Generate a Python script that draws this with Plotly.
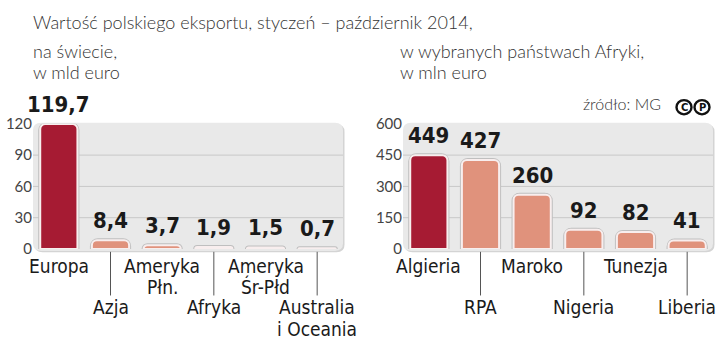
import plotly.graph_objects as go

W, H = 720, 349

# ---- data ----
world_categories = ["Europa", "Azja", "Ameryka Płn.", "Afryka", "Ameryka Śr-Płd", "Australia i Oceania"]
world_label_lines = [["Europa"], ["Azja"], ["Ameryka", "Płn."], ["Afryka"], ["Ameryka", "Śr-Płd"], ["Australia", "i Oceania"]]
world_values = [119.7, 8.4, 3.7, 1.9, 1.5, 0.7]
world_ticks = [0, 30, 60, 90, 120]

africa_categories = ["Algieria", "RPA", "Maroko", "Nigeria", "Tunezja", "Liberia"]
africa_label_lines = [["Algieria"], ["RPA"], ["Maroko"], ["Nigeria"], ["Tunezja"], ["Liberia"]]
africa_values = [449, 427, 260, 92, 82, 41]
africa_ticks = [0, 150, 300, 450, 600]

title_text = "Wartość polskiego eksportu, styczeń – październik 2014,"
left_sub = ["na świecie,", "w mld euro"]
right_sub = ["w wybranych państwach Afryki,", "w mln euro"]
source_text = "źródło: MG"

# ---- style ----
DARK = "#A61B33"
LIGHT = "#E0927C"
BOX = "#E9E9E9"
GRID = "#C8C8C8"
COND = "DejaVu Sans Condensed, Liberation Sans Narrow, Arial Narrow, sans-serif"
LIGHTF = "Lato, Roboto, sans-serif"


def px(x):
    return x / W


def py(y):
    return (H - y) / H


fig = go.Figure()

panels = [
    dict(cats=world_categories, vals=world_values, lines=world_label_lines, ticks=world_ticks,
         xa="x", ya="y", x0=33, x1=343, fmt=lambda v: f"{v:.1f}".replace(".", ",")),
    dict(cats=africa_categories, vals=africa_values, lines=africa_label_lines, ticks=africa_ticks,
         xa="x2", ya="y2", x0=403, x1=713, fmt=lambda v: f"{v:d}"),
]

shapes = []
annotations = []

for p in panels:
    colors = [DARK] + [LIGHT] * (len(p["vals"]) - 1)
    # grey outer rim (shadow) behind the bars
    fig.add_trace(go.Bar(
        x=p["cats"], y=p["vals"], xaxis=p["xa"], yaxis=p["ya"],
        marker=dict(color="#BDBDBD", line=dict(color="#BFBFBF", width=4), cornerradius=6),
        cliponaxis=False, hoverinfo="skip", showlegend=False,
    ))
    fig.add_trace(go.Bar(
        x=p["cats"], y=p["vals"], xaxis=p["xa"], yaxis=p["ya"],
        marker=dict(color=colors, line=dict(color="#F8EEEE", width=2), cornerradius=5),
        cliponaxis=False, hoverinfo="skip", showlegend=False,
    ))
    # rounded background box (shadow + box)
    for off, col in [(1.5, "#D4D4D4"), (0, BOX)]:
        l, r, t, b, rad = p["x0"] + off, p["x1"] + off, 119 + off, 254 + off, 8
        path = (f"M {px(l+rad)} {py(t)} L {px(r-rad)} {py(t)} Q {px(r)} {py(t)} {px(r)} {py(t+rad)} "
                f"L {px(r)} {py(b-rad)} Q {px(r)} {py(b)} {px(r-rad)} {py(b)} "
                f"L {px(l+rad)} {py(b)} Q {px(l)} {py(b)} {px(l)} {py(b-rad)} "
                f"L {px(l)} {py(t+rad)} Q {px(l)} {py(t)} {px(l+rad)} {py(t)} Z")
        shapes.append(dict(type="path", path=path, xref="paper", yref="paper",
                           fillcolor=col, line=dict(width=0), layer="below"))
    # grid lines
    for tv in p["ticks"][1:-1]:
        shapes.append(dict(type="line", xref=p["xa"] + " domain", yref=p["ya"],
                           x0=0, x1=1, y0=tv, y1=tv, line=dict(color=GRID, width=1), layer="below"))
    # value labels
    for c, v in zip(p["cats"], p["vals"]):
        annotations.append(dict(x=c, y=v, xref=p["xa"], yref=p["ya"], text=p["fmt"](v),
                                showarrow=False, yanchor="bottom", yshift=5,
                                font=dict(family=COND, size=22, color="#1A1A1A", weight="bold")))
    # category labels, alternating tiers, one annotation per text line
    for i, (c, lines) in enumerate(zip(p["cats"], p["lines"])):
        first = 269.5 if i % 2 == 0 else 313.5
        if i % 2 == 1:
            shapes.append(dict(type="line", xref=p["xa"], yref="paper", x0=c, x1=c,
                               y0=py(255), y1=py(301), line=dict(color="#555555", width=1)))
        for k, ln in enumerate(lines):
            annotations.append(dict(x=c, y=py(first + 22.5 * k), xref=p["xa"], yref="paper", text=ln,
                                    showarrow=False, yanchor="middle", borderpad=0,
                                    font=dict(family=COND, size=19, color="#1A1A1A")))

# titles
TF = dict(family=LIGHTF, size=18, color="#333333", weight=300)
annotations.append(dict(x=px(32), y=1, xref="paper", yref="paper", text=title_text,
                        showarrow=False, xanchor="left", yanchor="top", borderpad=0, font=TF))
for k, t in enumerate(left_sub):
    annotations.append(dict(x=px(32), y=py(35 + 22 * k), xref="paper", yref="paper", text=t, yshift=4,
                            showarrow=False, xanchor="left", yanchor="top", borderpad=0, font=TF))
for k, t in enumerate(right_sub):
    annotations.append(dict(x=px(399), y=py(35 + 22 * k), xref="paper", yref="paper", text=t, yshift=4,
                            showarrow=False, xanchor="left", yanchor="top", borderpad=0, font=TF))
annotations.append(dict(x=px(663), y=py(99), xref="paper", yref="paper", text=source_text,
                        showarrow=False, xanchor="right", yanchor="middle",
                        font=dict(family=LIGHTF, size=16, color="#333333", weight=300)))
# (C)(P) icons
for cx, letter in [(684, "C"), (702, "P")]:
    shapes.append(dict(type="circle", xref="paper", yref="paper",
                       x0=px(cx - 7.5), x1=px(cx + 7.5), y0=py(110), y1=py(95),
                       line=dict(color="#111111", width=2.4), fillcolor="white"))
    annotations.append(dict(x=px(cx), y=py(102.5), xref="paper", yref="paper", text=letter,
                            showarrow=False, xanchor="center", yanchor="middle",
                            font=dict(family="DejaVu Sans, sans-serif", size=10, color="#111111", weight="bold")))

ydom = [py(252), py(120)]
common_y = dict(showgrid=False, zeroline=False, showline=False, ticks="",
                tickfont=dict(family=LIGHTF, size=15, color="#444444"), domain=ydom,
                ticklabelstandoff=0)
common_x = dict(type="category", showgrid=False, zeroline=False, showline=False,
                showticklabels=False, range=[-0.5, 5.5], fixedrange=True)

fig.update_layout(
    width=W, height=H, margin=dict(l=0, r=0, t=0, b=0),
    paper_bgcolor="white", plot_bgcolor="rgba(0,0,0,0)",
    bargap=0.28, barmode="overlay",
    xaxis=dict(**common_x, domain=[px(33), px(343)]),
    xaxis2=dict(**common_x, domain=[px(403), px(713)]),
    yaxis=dict(**common_y, range=[0, 120], tickvals=world_ticks, anchor="x"),
    yaxis2=dict(**common_y, range=[0, 600], tickvals=africa_ticks, anchor="x2"),
    shapes=shapes, annotations=annotations,
)

fig.write_html("out.html")
